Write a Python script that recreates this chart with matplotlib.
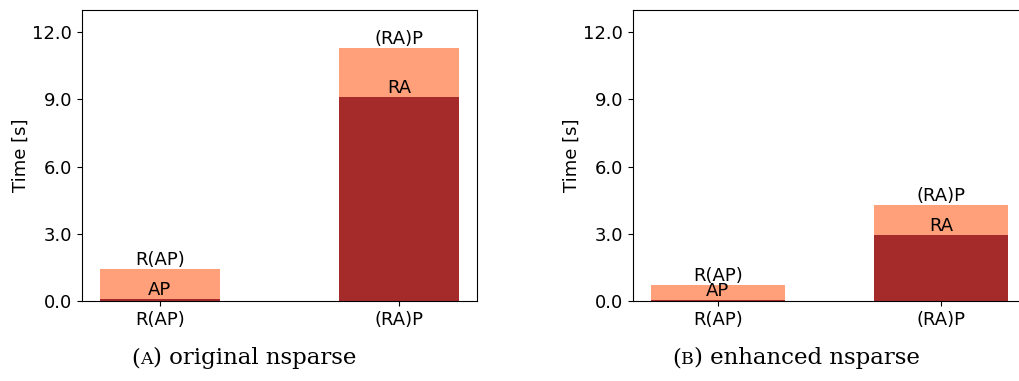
import matplotlib
matplotlib.use("Agg")
import matplotlib.pyplot as plt

# Execution time of the two multiplication orders, split into the first product
# (dark) and the total including the second product (light).
orders = ["R(AP)", "(RA)P"]
first_step = ["AP", "RA"]

original_first = [0.10, 9.12]
original_total = [1.44, 11.30]

enhanced_first = [0.03, 2.95]
enhanced_total = [0.72, 4.29]

yticks = [0.0, 3.0, 6.0, 9.0, 12.0]
ylim = (0, 13)

DARK = "#A52A2A"
LIGHT = "#FFA07A"
FS = 13

fig = plt.figure(figsize=(10.19, 3.81), dpi=100)
W, H = 1019, 381


def panel(rect, first, total, width):
    ax = fig.add_axes(rect)
    x = list(range(len(orders)))
    ax.bar(x, total, width=width, color=LIGHT)
    ax.bar(x, first, width=width, color=DARK)
    for xi, f, t, fl, ol in zip(x, first, total, first_step, orders):
        ax.text(xi, f, fl, ha="center", va="bottom", fontsize=FS)
        ax.text(xi, t, ol, ha="center", va="bottom", fontsize=FS)
    ax.set_xticks(x)
    ax.set_xticklabels(orders, fontsize=FS)
    ax.set_ylim(*ylim)
    ax.set_yticks(yticks)
    ax.set_yticklabels([f"{v:.1f}" for v in yticks], fontsize=FS)
    ax.set_ylabel("Time [s]", fontsize=FS, labelpad=2)
    return ax


ax1 = panel([82 / W, 80 / H, 394.6 / W, 291.4 / H], original_first, original_total, 0.5)
ax2 = panel([633 / W, 80 / H, 392.6 / W, 291.4 / H], enhanced_first, enhanced_total, 0.6)


def caption(xc, letter, rest):
    serif = "DejaVu Serif"
    parts = [("(", 16.5), (letter, 12.5), (") " + rest, 16.5)]
    texts = [fig.text(0, 0, s, fontsize=size, family=serif, va="baseline", ha="left")
             for s, size in parts]
    fig.canvas.draw()
    r = fig.canvas.get_renderer()
    widths = [tx.get_window_extent(r).width for tx in texts]
    x = xc - sum(widths) / 2
    ybase = 364
    for tx, w in zip(texts, widths):
        tx.set_position((x / W, (H - ybase) / H))
        x += w


caption(244, "A", "original nsparse")
caption(796, "B", "enhanced nsparse")

fig.savefig("out.png", dpi=100)
